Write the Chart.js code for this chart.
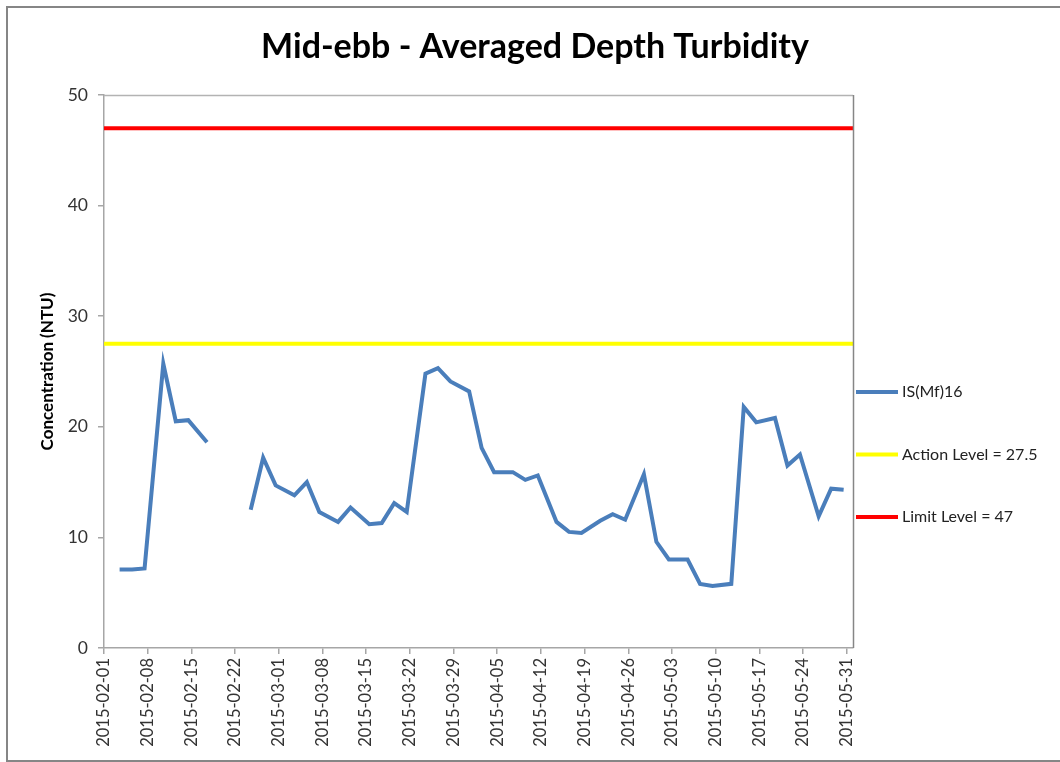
<!DOCTYPE html>
<html>
<head>
<meta charset="utf-8">
<title>Mid-ebb - Averaged Depth Turbidity</title>
<script src="https://cdn.jsdelivr.net/npm/chart.js@4.4.0/dist/chart.umd.min.js"></script>
<style>
  html, body { margin: 0; padding: 0; background: #fff; }
  #wrap { width: 1060px; height: 762px; }
</style>
</head>
<body>
<div id="wrap"><canvas id="turbidity"></canvas></div>
<script>
// sampling dates (Tue / Thu / Sat), null = no survey
const sampleDates = [
  '2015-02-03', '2015-02-05', '2015-02-07', '2015-02-10', '2015-02-12', '2015-02-14',
  '2015-02-17', '2015-02-19', '2015-02-21', '2015-02-24', '2015-02-26', '2015-02-28',
  '2015-03-03', '2015-03-05', '2015-03-07', '2015-03-10', '2015-03-12', '2015-03-15',
  '2015-03-17', '2015-03-19', '2015-03-21', '2015-03-24', '2015-03-26', '2015-03-28',
  '2015-03-31', '2015-04-02', '2015-04-04', '2015-04-07', '2015-04-09', '2015-04-11',
  '2015-04-14', '2015-04-16', '2015-04-18', '2015-04-21', '2015-04-23', '2015-04-25',
  '2015-04-28', '2015-04-30', '2015-05-02', '2015-05-05', '2015-05-07', '2015-05-09',
  '2015-05-12', '2015-05-14', '2015-05-16', '2015-05-19', '2015-05-21', '2015-05-23',
  '2015-05-26', '2015-05-28', '2015-05-30'
];
const turbidity = [
  7.1, 7.1, 7.2, 25.7, 20.5, 20.6,
  18.6, null, null, 12.5, 17.2, 14.7,
  13.8, 15.0, 12.3, 11.4, 12.7, 11.2,
  11.3, 13.1, 12.3, 24.8, 25.3, 24.1,
  23.2, 18.1, 15.9, 15.9, 15.2, 15.6,
  11.4, 10.5, 10.4, 11.5, 12.1, 11.6,
  15.7, 9.6, 8.0, 8.0, 5.8, 5.6,
  5.8, 21.8, 20.4, 20.8, 16.5, 17.5,
  11.9, 14.4, 14.3
];
const actionLevel = 27.5;
const limitLevel = 47;
const tickDates = [
  '2015-02-01', '2015-02-08', '2015-02-15', '2015-02-22', '2015-03-01', '2015-03-08',
  '2015-03-15', '2015-03-22', '2015-03-29', '2015-04-05', '2015-04-12', '2015-04-19',
  '2015-04-26', '2015-05-03', '2015-05-10', '2015-05-17', '2015-05-24', '2015-05-31'
];
const yTicks = [0, 10, 20, 30, 40, 50];

const chartTitle = 'Mid-ebb - Averaged Depth Turbidity';
const axisStart = '2015-02-01';
const axisEnd = '2015-06-01';

const DAY = 86400000;
function dayNum(s) {
  return (Date.parse(s + 'T00:00:00Z') - Date.parse(axisStart + 'T00:00:00Z')) / DAY;
}
function dayLabel(n) {
  return new Date(Date.parse(axisStart + 'T00:00:00Z') + n * DAY).toISOString().slice(0, 10);
}

const FONT = 'Lato, "Open Sans", "DejaVu Sans", sans-serif';
const endDay = dayNum(axisEnd);

// each sample sits in the middle of its day slot
const series = sampleDates.map((d, i) => ({ x: dayNum(d) + 0.5, y: turbidity[i] }));

const frame = {
  id: 'frame',
  beforeDraw(chart) {
    const ctx = chart.ctx;
    ctx.save();
    ctx.strokeStyle = '#868686';
    ctx.lineWidth = 2;
    ctx.strokeRect(7, 7, 1080, 754);
    ctx.restore();
  },
  afterDraw(chart) {
    const { ctx, chartArea: a } = chart;
    ctx.save();
    ctx.lineWidth = 1.5;
    ctx.strokeStyle = '#b3b3b3';
    ctx.beginPath();
    ctx.moveTo(a.left, a.top + 0.5);
    ctx.lineTo(a.right, a.top + 0.5);
    ctx.stroke();
    ctx.strokeStyle = '#868686';
    ctx.beginPath();
    ctx.moveTo(a.right + 0.5, a.top);
    ctx.lineTo(a.right + 0.5, a.bottom);
    ctx.stroke();

    // title, centred on the whole canvas
    ctx.fillStyle = '#000';
    ctx.font = 'bold 34px ' + FONT;
    ctx.textAlign = 'center';
    ctx.textBaseline = 'middle';
    ctx.fillText(chartTitle, 535, 47);

    // legend column on the right
    ctx.font = '16px ' + FONT;
    ctx.textAlign = 'left';
    ctx.fillStyle = '#222';
    chart.data.datasets.forEach((ds, i) => {
      const y = 392 + i * 62.5;
      ctx.strokeStyle = ds.borderColor;
      ctx.lineWidth = 4;
      ctx.beginPath();
      ctx.moveTo(a.right + 3, y);
      ctx.lineTo(a.right + 45, y);
      ctx.stroke();
      ctx.fillText(ds.label, a.right + 49, y);
    });
    ctx.restore();
  }
};

new Chart(document.getElementById('turbidity'), {
  type: 'line',
  data: {
    datasets: [
      {
        label: 'IS(Mf)16',
        data: series,
        borderColor: '#4a7ebb',
        borderWidth: 4,
        pointRadius: 0,
        spanGaps: false,
        tension: 0
      },
      {
        label: 'Action Level = ' + actionLevel,
        data: [{ x: 0, y: actionLevel }, { x: endDay, y: actionLevel }],
        borderColor: '#ffff00',
        borderWidth: 4,
        pointRadius: 0
      },
      {
        label: 'Limit Level = ' + limitLevel,
        data: [{ x: 0, y: limitLevel }, { x: endDay, y: limitLevel }],
        borderColor: '#ff0000',
        borderWidth: 4,
        pointRadius: 0
      }
    ]
  },
  options: {
    responsive: true,
    maintainAspectRatio: false,
    animation: false,
    layout: { padding: { left: 0, right: 207, top: 95, bottom: 0 } },
    plugins: {
      legend: { display: false },
      tooltip: { enabled: false },
      title: { display: false }
    },
    scales: {
      x: {
        type: 'linear',
        min: 0,
        max: endDay,
        afterBuildTicks(scale) {
          scale.ticks = tickDates.map(d => ({ value: dayNum(d) }));
        },
        afterFit(scale) { scale.height = 114; },
        border: { color: '#a6a6a6', width: 1.5 },
        grid: { drawOnChartArea: false, color: '#a6a6a6', tickLength: 6, lineWidth: 1.5 },
        ticks: {
          autoSkip: false,
          minRotation: 90,
          maxRotation: 90,
          padding: 4,
          color: '#333',
          font: { family: FONT, size: 16.5 },
          callback: v => dayLabel(v)
        }
      },
      y: {
        min: 0,
        max: 50,
        afterBuildTicks(scale) {
          scale.ticks = yTicks.map(v => ({ value: v }));
        },
        afterFit(scale) { scale.width = 104; },
        border: { color: '#a6a6a6', width: 1.5 },
        grid: { drawOnChartArea: false, color: '#a6a6a6', tickLength: 6, lineWidth: 1.5 },
        ticks: {
          padding: 10,
          color: '#333',
          font: { family: FONT, size: 17.5 }
        },
        title: {
          display: true,
          text: 'Concentration (NTU)',
          color: '#000',
          font: { family: FONT, size: 17, weight: 'bold', lineHeight: 1.2 },
          padding: { top: 37 }
        }
      }
    }
  },
  plugins: [frame]
});
</script>
</body>
</html>
